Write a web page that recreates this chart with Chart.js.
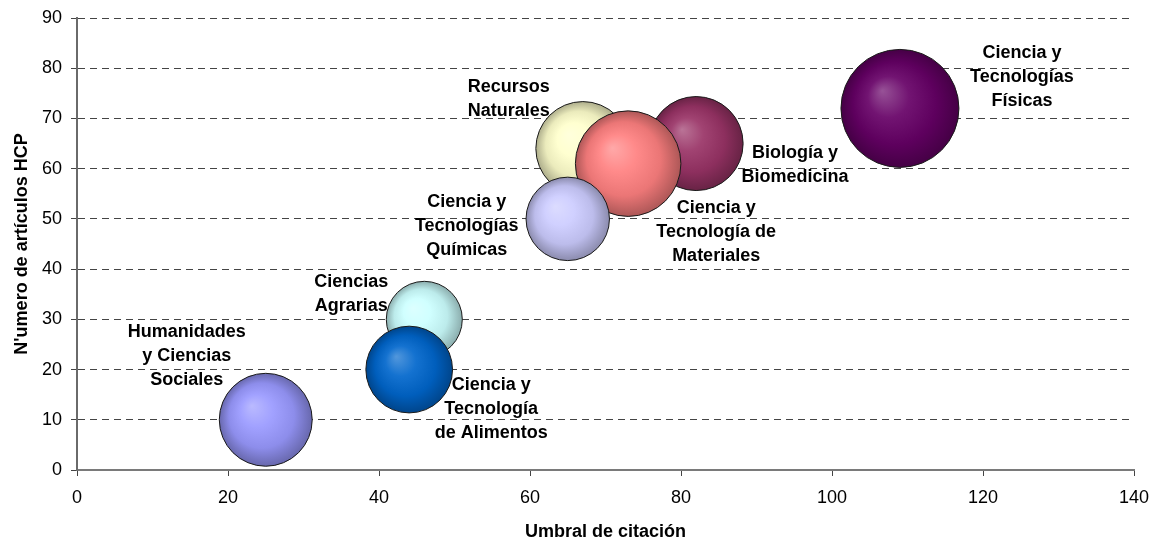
<!DOCTYPE html>
<html>
<head>
<meta charset="utf-8">
<script src="https://cdn.jsdelivr.net/npm/chart.js@4/dist/chart.umd.min.js"></script>
<style>
  html, body { margin: 0; padding: 0; background: #ffffff; }
  #wrap { width: 1156px; height: 543px; position: relative; }
</style>
</head>
<body>
<div id="wrap"><canvas id="c"></canvas></div>
<script>
// ---- data ----
const categories = [
  ["Ciencia y", "Tecnologías", "Físicas"],
  ["Biología y", "Biomedicina"],
  ["Recursos", "Naturales"],
  ["Ciencia y", "Tecnología de", "Materiales"],
  ["Ciencia y", "Tecnologías", "Químicas"],
  ["Humanidades", "y Ciencias", "Sociales"],
  ["Ciencias", "Agrarias"],
  ["Ciencia y", "Tecnología", "de Alimentos"]
];
const umbralCitacion = [109, 82, 67, 73, 65, 25, 46, 44];
const articulosHCP   = [72, 65, 64, 61, 50, 10, 30, 20];
const bubbleSize     = [100, 63.5, 63.5, 80, 50, 62, 41.5, 54];
const xTicks = [0, 20, 40, 60, 80, 100, 120, 140];
const yTicks = [0, 10, 20, 30, 40, 50, 60, 70, 80, 90];

// ---- styles ----
const bubbleColors = ["#660066", "#993366", "#ffffcc", "#ff8080", "#ccccff", "#9999ff", "#ccffff", "#0066cc"];
const labelOffsets = [
  [122, -55], [99, 9], [-74, -62], [88, 44], [-101, -17], [-79, -88], [-73, -37], [82, 15]
];
const labelLineHeight = 24;
const MAX_RADIUS = 59;
const FONT = "'Liberation Sans', Arial, sans-serif";

function shade(hex, f) {
  const n = parseInt(hex.slice(1), 16);
  let r = (n >> 16) & 255, g = (n >> 8) & 255, b = n & 255;
  if (f >= 0) { r += (255 - r) * f; g += (255 - g) * f; b += (255 - b) * f; }
  else { r *= (1 + f); g *= (1 + f); b *= (1 + f); }
  return `rgb(${Math.round(r)},${Math.round(g)},${Math.round(b)})`;
}

const maxSize = Math.max(...bubbleSize);
const points = umbralCitacion.map((x, i) => ({
  x: x, y: articulosHCP[i], r: MAX_RADIUS * Math.sqrt(bubbleSize[i] / maxSize)
}));

function bubbleFill(c) {
  const base = bubbleColors[c.dataIndex] || bubbleColors[0];
  const chart = c.chart;
  if (c.type !== 'data' || !chart.chartArea || !chart.scales.x) return base;
  const p = c.raw;
  const cx = chart.scales.x.getPixelForValue(p.x);
  const cy = chart.scales.y.getPixelForValue(p.y);
  const r = p.r;
  const g = chart.ctx.createRadialGradient(cx - 0.3 * r, cy - 0.3 * r, 0, cx, cy, r);
  g.addColorStop(0, shade(base, 0.32));
  g.addColorStop(0.35, shade(base, 0.08));
  g.addColorStop(0.7, shade(base, -0.08));
  g.addColorStop(1, shade(base, -0.32));
  return g;
}

const labelPlugin = {
  id: 'bubbleLabels',
  afterDatasetsDraw(chart) {
    const ctx = chart.ctx;
    const meta = chart.getDatasetMeta(0);
    ctx.save();
    ctx.font = `bold 18px ${FONT}`;
    ctx.fillStyle = '#000';
    ctx.textAlign = 'center';
    ctx.textBaseline = 'middle';
    meta.data.forEach((el, i) => {
      const [dx, dy] = labelOffsets[i];
      categories[i].forEach((line, k) => {
        ctx.fillText(line, el.x + dx, el.y + dy + k * labelLineHeight);
      });
    });
    ctx.restore();
  }
};

new Chart(document.getElementById('c'), {
  type: 'bubble',
  data: {
    datasets: [{
      data: points,
      backgroundColor: bubbleFill,
      borderColor: '#1a1a1a',
      borderWidth: 1,
      clip: false
    }]
  },
  plugins: [labelPlugin],
  options: {
    responsive: true,
    maintainAspectRatio: false,
    animation: false,
    events: [],
    layout: { autoPadding: false, padding: { left: 0, right: 22, top: 18, bottom: 0 } },
    plugins: { legend: { display: false }, tooltip: { enabled: false } },
    scales: {
      x: {
        type: 'linear', min: 0, max: 140,
        afterBuildTicks(s) { s.ticks = xTicks.map(v => ({ value: v })); },
        afterFit(s) { s.height = 73; s.paddingLeft = 0; s.paddingRight = 0; },
        ticks: { color: '#000', padding: 11, font: { family: FONT, size: 18 } },
        grid: { drawOnChartArea: false, drawTicks: true, tickLength: 6, tickColor: '#444', tickWidth: 1 },
        border: { display: true, color: '#7a7a7a', width: 2 },
        title: { display: true, text: 'Umbral de citación', color: '#000',
                 font: { family: FONT, size: 18, weight: 'bold' }, padding: { top: 0, bottom: 0 } }
      },
      y: {
        type: 'linear', min: 0, max: 90,
        afterBuildTicks(s) { s.ticks = yTicks.map(v => ({ value: v })); },
        afterFit(s) { s.width = 77; s.paddingTop = 0; s.paddingBottom = 0; },
        ticks: { color: '#000', padding: 9, font: { family: FONT, size: 18 } },
        grid: { color: '#444', lineWidth: 1, drawTicks: true, tickLength: 6, tickColor: '#444', tickWidth: 1 },
        border: { display: true, color: '#6a6a6a', width: 2, dash: [7, 5] },
        title: { display: true, text: "N'umero de artículos HCP", color: '#000',
                 font: { family: FONT, size: 18, weight: 'bold' }, padding: { top: 11, bottom: 0 } }
      }
    }
  }
});
</script>
</body>
</html>
